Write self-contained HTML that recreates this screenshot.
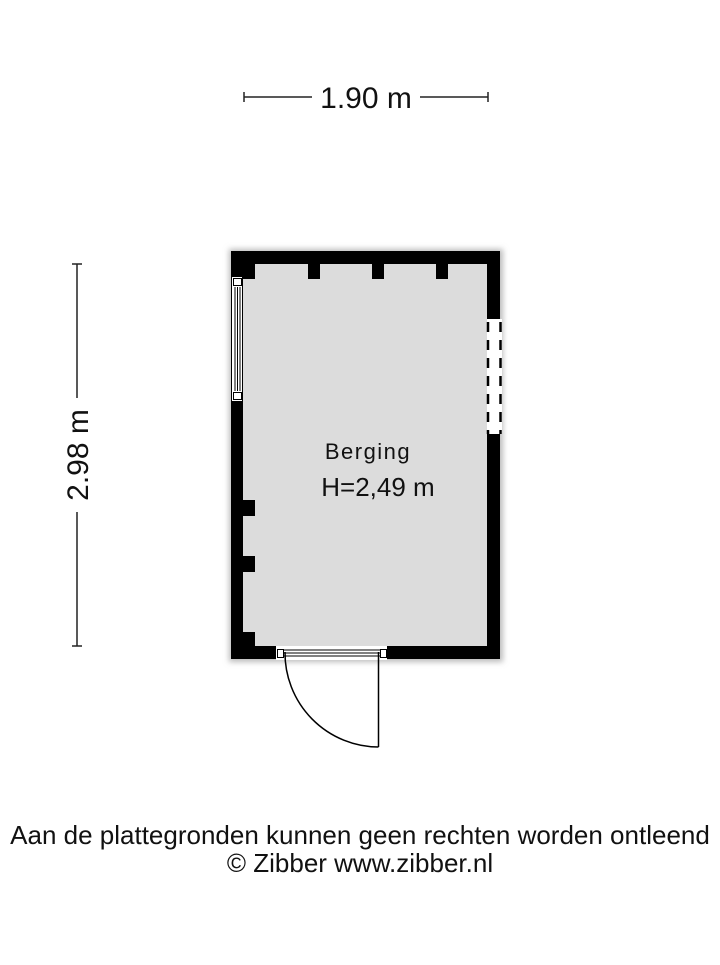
<!DOCTYPE html>
<html><head><meta charset="utf-8"><style>
body{margin:0;width:720px;height:960px;background:#fff;overflow:hidden}
</style></head><body>
<svg width="720" height="960" xmlns="http://www.w3.org/2000/svg" font-family="Liberation Sans, sans-serif">
<defs><filter id="s" x="-10%" y="-10%" width="120%" height="120%"><feGaussianBlur stdDeviation="3"/></filter></defs>
<g stroke="#222" stroke-width="1.5">
<line x1="244" y1="97" x2="312" y2="97"/><line x1="420" y1="97" x2="488" y2="97"/>
<line x1="244" y1="92" x2="244" y2="102"/><line x1="488" y1="92" x2="488" y2="102"/>
<line x1="77" y1="264" x2="77" y2="398"/><line x1="77" y1="512" x2="77" y2="646"/>
<line x1="72" y1="264" x2="82" y2="264"/><line x1="72" y1="646" x2="82" y2="646"/>
</g>
<text x="366" y="108" font-size="30" text-anchor="middle" fill="#111">1.90 m</text>
<text transform="translate(88,455) rotate(-90)" font-size="30" text-anchor="middle" fill="#111">2.98 m</text>
<rect x="229" y="249" width="274" height="413" fill="#bbb" filter="url(#s)"/>
<rect x="231" y="251" width="269" height="408" fill="#000"/>
<rect x="243" y="264" width="244" height="382" fill="#dcdcdc"/>
<g fill="#000">
<rect x="243" y="264" width="12" height="15"/>
<rect x="308" y="264" width="12" height="15"/><rect x="372" y="264" width="12" height="15"/><rect x="436" y="264" width="12" height="15"/>
<rect x="243" y="500" width="12" height="16"/><rect x="243" y="556" width="12" height="16"/><rect x="243" y="632" width="12" height="14"/>
</g>
<rect x="232" y="277" width="10" height="124" fill="#fff"/>
<g stroke="#000" stroke-width="1" fill="none">
<rect x="233.5" y="278.5" width="8" height="7"/><rect x="233.5" y="392.5" width="8" height="7"/>
<line x1="235" y1="287" x2="235" y2="391"/><line x1="237.5" y1="287" x2="237.5" y2="391"/><line x1="240" y1="287" x2="240" y2="391"/>
</g>
<rect x="487" y="319" width="15" height="115" fill="#fff"/>
<g stroke="#000" stroke-width="2.5" stroke-dasharray="10,8">
<line x1="488" y1="322" x2="488" y2="434"/><line x1="500.5" y1="322" x2="500.5" y2="434"/>
</g>
<rect x="276" y="646" width="111" height="14" fill="#fff"/>
<g stroke="#000" stroke-width="1" fill="none">
<rect x="277.5" y="649.5" width="6" height="8"/><rect x="380.5" y="649.5" width="6" height="8"/>
<line x1="284" y1="650" x2="380" y2="650"/><line x1="284" y1="653" x2="380" y2="653"/><line x1="284" y1="656" x2="380" y2="656"/>
</g>
<g stroke="#000" stroke-width="1.5" fill="none">
<line x1="378.5" y1="652" x2="378.5" y2="747"/>
<path d="M285 652 A94 94 0 0 0 378.5 747"/>
</g>
<text x="368" y="459" font-size="22" text-anchor="middle" fill="#111" letter-spacing="1.5">Berging</text>
<text x="378" y="496" font-size="26" text-anchor="middle" fill="#111">H=2,49 m</text>
<text x="360" y="844" font-size="26" text-anchor="middle" fill="#111">Aan de plattegronden kunnen geen rechten worden ontleend</text>
<text x="360" y="872" font-size="26" text-anchor="middle" fill="#111">© Zibber www.zibber.nl</text>
</svg>
</body></html>
